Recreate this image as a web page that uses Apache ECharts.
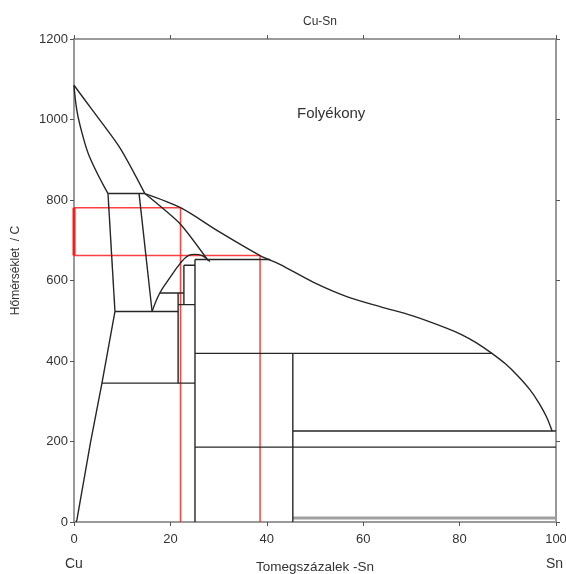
<!DOCTYPE html>
<html>
<head>
<meta charset="utf-8">
<script src="https://cdn.jsdelivr.net/npm/echarts@6/dist/echarts.min.js"></script>
<style>html,body{margin:0;padding:0;background:#fff;}#chart{width:566px;height:574px;}</style>
</head>
<body>
<div id="chart"></div>
<script>
// ---- data (wt% Sn, temperature °C) ----
const liquidusCu = [[0,1085],[3.9,1022],[9.5,930],[14.7,816]];
const solidusCu = [[0,1085],[0.6,1022],[1.7,965],[3.3,905],[7.05,816]];
const liquidusSn = [[14.7,816],[22.1,781],[30.0,722],[38.6,662],[42.7,640],[49.6,596],[56.6,560],[63.5,535],[70.3,512],[77.4,481],[80.5,465],[83.5,445],[86.7,419],[89.5,393],[92.0,364],[94.5,330],[96.5,295],[98.0,262],[99.2,226]];
const alphaBeta = [[7.05,816],[8.5,523]];
const betaRight = [[13.5,816],[16.2,523]];
const alphaSolvus = [[8.5,523],[5.8,345],[3.4,196],[0.6,5],[0.4,0]];
const gammaDome = [[16.2,523],[17.8,569],[19.9,607],[22.0,642],[23.7,662],[25.1,665],[26.6,662],[28.2,647]];
const betaLiquid = [[14.7,816],[22.0,741],[27.8,650]];
// horizontal isotherms: [xStart, xEnd, temperature]
const isotherms = [[7.05,14.7,816],[8.5,21.6,523],[5.8,25.1,345],[17.8,22.8,569],[22.8,25.1,638],[21.6,25.1,540],[25.1,40.7,652],[25.1,86.7,419],[45.4,100,226],[25.1,100,186]];
const lowIsotherm = [[45.4,100,10]];
// vertical boundaries: [x, tStart, tEnd]
const verticals = [[25.1,0,652],[45.4,0,419],[21.6,345,569],[22.8,540,638]];
// red construction lines
const redLine1 = [[0,781],[22.1,781],[22.1,0]];
const redLine2 = [[0,662],[38.6,662],[38.6,0]];
const redLeft = [[0,662],[0,781]];

const BLACK = '#262626';
const FONT = 'Liberation Sans, Arial, sans-serif';
const series = [];
function addLine(data, color, width, smooth) {
  series.push({type:'line', data:data, symbol:'none', smooth:smooth||false, silent:true,
    lineStyle:{color:color, width:width}, z:color===BLACK?3:2, animation:false});
}
addLine(liquidusCu, BLACK, 1.4, 0.25);
addLine(solidusCu, BLACK, 1.4, 0.4);
addLine(liquidusSn, BLACK, 1.4, 0.3);
addLine(alphaBeta, BLACK, 1.4);
addLine(betaRight, BLACK, 1.4);
addLine(alphaSolvus, BLACK, 1.4);
addLine(gammaDome, BLACK, 1.4, 0.4);
addLine(betaLiquid, BLACK, 1.4, 0.2);
isotherms.forEach(h => addLine([[h[0],h[2]],[h[1],h[2]]], BLACK, 1.4));
lowIsotherm.forEach(h => addLine([[h[0],h[2]],[h[1],h[2]]], '#a0a0a0', 3));
verticals.forEach(v => addLine([[v[0],v[1]],[v[0],v[2]]], BLACK, 1.4));
addLine(redLine1, 'rgba(255,30,30,0.85)', 1.5);
addLine(redLine2, 'rgba(255,30,30,0.85)', 1.5);
addLine(redLeft, '#ff1a1a', 3);

const axisLine = {show:true, onZero:false, lineStyle:{color:'#9a9a9a', width:2}};
const axisTick = {show:true, inside:false, length:4, lineStyle:{color:'#555', width:1}};
const labelStyle = {color:'#333', fontSize:13, fontFamily:FONT, formatter: v => String(v)};

const chart = echarts.init(document.getElementById('chart'), null, {renderer:'canvas'});
chart.setOption({
  backgroundColor:'#fff',
  animation:false,
  title:{text:'Cu-Sn', left:315, top:11, textAlign:'center',
    textStyle:{fontSize:12, fontWeight:'normal', color:'#333', fontFamily:FONT}},
  grid:{left:74, right:10, top:39, bottom:52, containLabel:false, outerBoundsMode:'none'},
  xAxis:[
    {type:'value', min:0, max:100, interval:20, position:'bottom',
      axisLine:axisLine, axisTick:axisTick, splitLine:{show:false},
      axisLabel:Object.assign({margin:11}, labelStyle),
      name:'Tomegszázalek -Sn', nameLocation:'middle', nameGap:38,
      nameTextStyle:{color:'#333', fontSize:13.5, fontFamily:FONT}},
    {type:'value', min:0, max:100, interval:20, position:'top',
      axisLine:axisLine, axisTick:axisTick, axisLabel:{show:false}, splitLine:{show:false}}
  ],
  yAxis:[
    {type:'value', min:0, max:1200, interval:200, position:'left',
      axisLine:axisLine, axisTick:axisTick, splitLine:{show:false},
      axisLabel:Object.assign({margin:6}, labelStyle),
      name:'Hőmérséklet  / C', nameLocation:'middle', nameGap:52, nameRotate:90,
      nameTextStyle:{color:'#333', fontSize:12, fontFamily:FONT, padding:[0,0,0,20]}},
    {type:'value', min:0, max:1200, interval:200, position:'right',
      axisLine:axisLine, axisTick:axisTick, axisLabel:{show:false}, splitLine:{show:false}}
  ],
  graphic:[
    {type:'text', left:297, top:106, style:{text:'Folyékony', fill:'#333', font:'15px Liberation Sans, Arial, sans-serif'}},
    {type:'text', left:65, top:557, style:{text:'Cu', fill:'#333', font:'14px Liberation Sans, Arial, sans-serif'}},
    {type:'text', left:546, top:557, style:{text:'Sn', fill:'#333', font:'14px Liberation Sans, Arial, sans-serif'}}
  ],
  series: series
});
</script>
</body>
</html>
